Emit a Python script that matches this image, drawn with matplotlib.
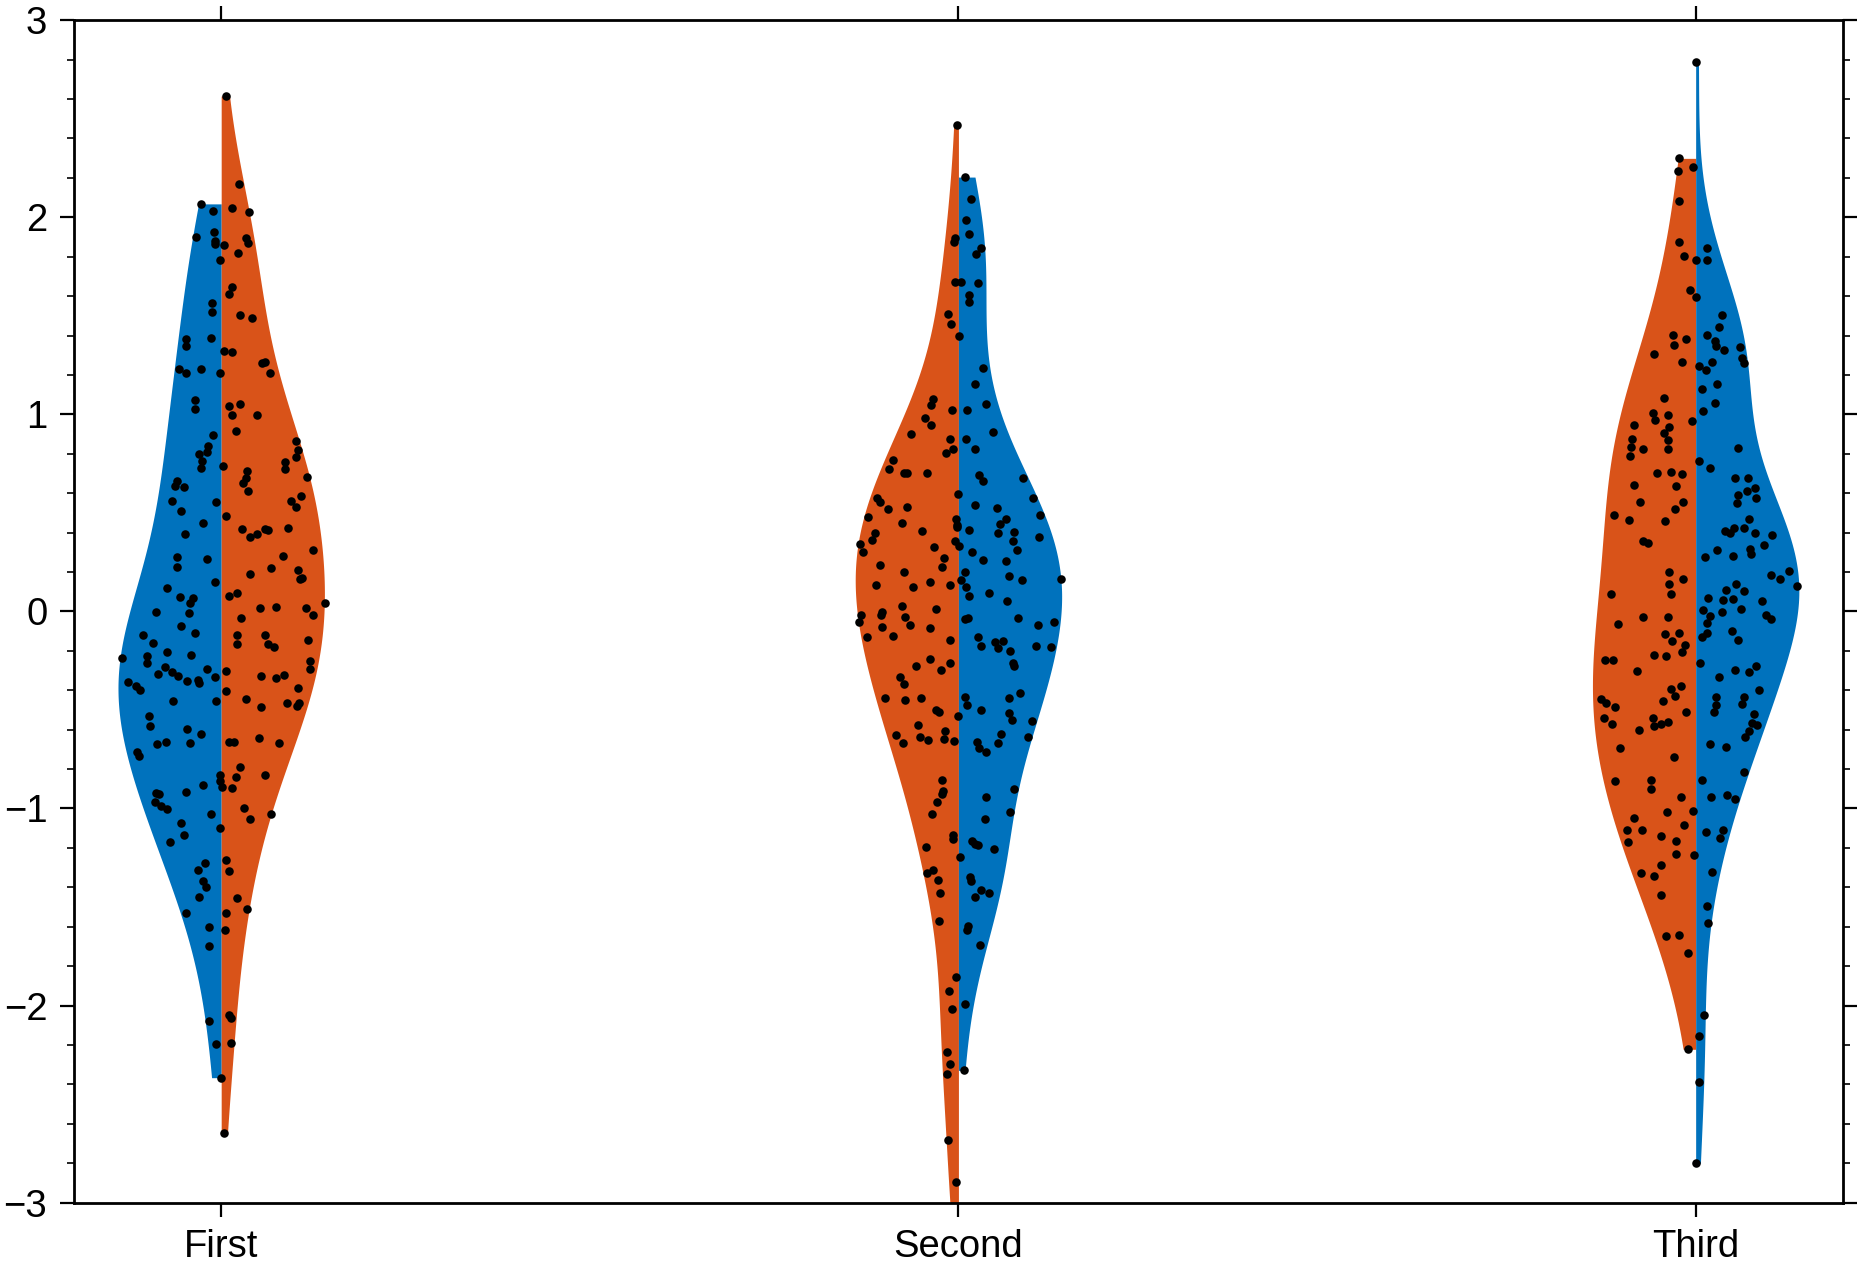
import numpy as np
import matplotlib.pyplot as plt
from matplotlib.ticker import MultipleLocator

plt.rcParams['font.family'] = ['Liberation Sans', 'DejaVu Sans']

# ------------------------------------------------------
# DATA  (value, jitter offset)
# ------------------------------------------------------

categories = ["First", "Second", "Third"]
blue = "#0072BD"
orange = "#D95319"

first_blue = [
    (2.068, -0.028), (2.034, -0.011), (1.902, -0.034), (1.926, -0.010), (1.882, -0.009),
    (1.865, -0.008), (1.784, -0.001), (1.564, -0.012), (1.517, -0.012), (1.388, -0.014),
    (1.381, -0.048), (1.349, -0.048), (1.230, -0.057), (1.211, -0.048), (1.232, -0.028),
    (1.210, -0.001), (1.071, -0.036), (1.029, -0.036), (0.895, -0.011), (0.841, -0.018),
    (0.811, -0.019), (0.799, -0.030), (0.763, -0.026), (0.728, -0.027), (0.664, -0.060),
    (0.637, -0.063), (0.633, -0.051), (0.562, -0.067), (0.555, -0.007), (0.508, -0.054),
    (0.451, -0.024), (0.391, -0.049), (0.278, -0.060), (0.224, -0.060), (0.265, -0.019),
    (0.148, -0.009), (0.119, -0.074), (0.073, -0.056), (0.067, -0.038), (0.043, -0.042),
    (-0.001, -0.088), (-0.009, -0.044), (-0.072, -0.055), (-0.108, -0.035), (-0.120, -0.106),
    (-0.159, -0.093), (-0.238, -0.135), (-0.226, -0.101), (-0.263, -0.100), (-0.204, -0.073),
    (-0.221, -0.041), (-0.280, -0.076), (-0.309, -0.067), (-0.329, -0.058), (-0.319, -0.086),
    (-0.353, -0.047), (-0.348, -0.031), (-0.361, -0.030), (-0.292, -0.019), (-0.334, -0.009),
    (-0.360, -0.126), (-0.378, -0.116), (-0.397, -0.110), (-0.455, -0.066), (-0.455, -0.007),
    (-0.529, -0.098), (-0.581, -0.096), (-0.597, -0.046), (-0.620, -0.028), (-0.674, -0.087),
    (-0.664, -0.075), (-0.669, -0.042), (-0.713, -0.114), (-0.732, -0.112), (-0.830, -0.001),
    (-0.859, -0.001), (-0.882, -0.024), (-0.921, -0.088), (-0.925, -0.084), (-0.916, -0.048),
    (-0.965, -0.090), (-0.987, -0.082), (-1.002, -0.073), (-1.028, -0.014), (-1.075, -0.054),
    (-1.099, -0.001), (-1.136, -0.050), (-1.168, -0.069), (-1.278, -0.022), (-1.314, -0.031),
    (-1.368, -0.025), (-1.396, -0.021), (-1.451, -0.030), (-1.530, -0.048), (-1.601, -0.016),
    (-1.699, -0.017), (-2.080, -0.017), (-2.195, -0.007), (-2.366, 0.000),
]

first_orange = [
    (2.615, 0.006), (2.167, 0.024), (2.049, 0.015), (2.025, 0.038), (1.861, 0.004),
    (1.897, 0.033), (1.868, 0.036), (1.817, 0.023), (1.647, 0.014), (1.611, 0.011),
    (1.503, 0.025), (1.489, 0.042), (1.323, 0.004), (1.318, 0.014), (1.259, 0.056),
    (1.264, 0.060), (1.208, 0.066), (1.044, 0.011), (1.051, 0.025), (0.995, 0.015),
    (0.995, 0.048), (0.916, 0.020), (0.740, 0.002), (0.865, 0.101), (0.821, 0.104),
    (0.785, 0.101), (0.760, 0.086), (0.725, 0.086), (0.711, 0.035), (0.677, 0.033),
    (0.652, 0.030), (0.611, 0.037), (0.682, 0.117), (0.486, 0.006), (0.588, 0.108),
    (0.560, 0.095), (0.528, 0.101), (0.418, 0.028), (0.376, 0.039), (0.391, 0.048),
    (0.417, 0.060), (0.413, 0.064), (0.424, 0.090), (0.314, 0.125), (0.281, 0.084),
    (0.221, 0.067), (0.209, 0.104), (0.163, 0.107), (0.170, 0.110), (0.192, 0.039),
    (0.078, 0.010), (0.095, 0.022), (0.019, 0.052), (0.024, 0.074), (0.018, 0.115),
    (-0.018, 0.125), (0.041, 0.141), (-0.035, 0.027), (-0.120, 0.022), (-0.165, 0.022),
    (-0.121, 0.060), (-0.165, 0.064), (-0.181, 0.071), (-0.147, 0.118), (-0.302, 0.007),
    (-0.402, 0.007), (-0.250, 0.121), (-0.290, 0.121), (-0.326, 0.054), (-0.336, 0.074),
    (-0.323, 0.085), (-0.389, 0.104), (-0.444, 0.034), (-0.483, 0.054), (-0.463, 0.089),
    (-0.463, 0.105), (-0.482, 0.103), (-0.664, 0.011), (-0.664, 0.018), (-0.642, 0.051),
    (-0.666, 0.078), (-0.791, 0.026), (-0.838, 0.020), (-0.830, 0.060), (-0.893, 0.001),
    (-0.896, 0.014), (-0.997, 0.031), (-1.053, 0.039), (-1.028, 0.067), (-1.261, 0.006),
    (-1.319, 0.011), (-1.454, 0.021), (-1.512, 0.035), (-1.530, 0.007), (-1.615, 0.005),
    (-2.049, 0.011), (-2.065, 0.013), (-2.188, 0.013), (-2.645, 0.004),
]

second_orange = [
    (2.468, -0.002), (1.893, -0.005), (1.875, -0.006), (1.672, -0.005), (1.511, -0.014),
    (1.460, -0.010), (1.400, 0.001), (1.078, -0.035), (1.047, -0.037), (1.020, -0.009),
    (0.981, -0.046), (0.946, -0.037), (0.900, -0.064), (0.875, -0.012), (0.824, -0.007),
    (0.806, -0.017), (0.768, -0.089), (0.724, -0.094), (0.702, -0.074), (0.702, -0.070),
    (0.701, -0.042), (0.576, -0.110), (0.557, -0.106), (0.518, -0.096), (0.532, -0.070),
    (0.478, -0.122), (0.447, -0.076), (0.467, -0.003), (0.439, -0.002), (0.427, -0.002),
    (0.407, -0.050), (0.396, -0.113), (0.363, -0.117), (0.340, -0.134), (0.302, -0.129),
    (0.357, -0.004), (0.327, -0.033), (0.273, -0.019), (0.224, -0.022), (0.237, -0.107),
    (0.198, -0.074), (0.151, -0.038), (0.134, -0.011), (0.132, -0.112), (0.126, -0.062),
    (0.028, -0.077), (0.011, -0.031), (-0.016, -0.132), (-0.003, -0.103), (-0.020, -0.105),
    (-0.026, -0.073), (-0.055, -0.135), (-0.070, -0.066), (-0.080, -0.104), (-0.085, -0.038),
    (-0.128, -0.124), (-0.124, -0.089), (-0.143, -0.012), (-0.241, -0.038), (-0.263, -0.012),
    (-0.277, -0.058), (-0.297, -0.024), (-0.331, -0.079), (-0.370, -0.074), (-0.438, -0.100),
    (-0.448, -0.073), (-0.439, -0.051), (-0.502, -0.031), (-0.510, -0.027), (-0.578, -0.055),
    (-0.608, -0.018), (-0.627, -0.085), (-0.635, -0.052), (-0.652, -0.041), (-0.649, -0.019),
    (-0.659, -0.006), (-0.666, -0.075), (-0.857, -0.022), (-0.913, -0.021), (-0.926, -0.022),
    (-0.967, -0.029), (-1.026, -0.036), (-1.133, -0.007), (-1.153, -0.007), (-1.195, -0.044),
    (-1.312, -0.035), (-1.327, -0.042), (-1.361, -0.028), (-1.428, -0.025), (-1.571, -0.027),
    (-1.857, -0.003), (-1.924, -0.013), (-2.019, -0.009), (-2.237, -0.015), (-2.296, -0.012),
    (-2.349, -0.016), (-2.684, -0.014), (-2.895, -0.003), (-3.080, -0.002),
]

second_blue = [
    (2.204, 0.009), (2.091, 0.017), (1.985, 0.010), (1.914, 0.014), (1.846, 0.030),
    (1.814, 0.024), (1.672, 0.003), (1.668, 0.026), (1.604, 0.015), (1.569, 0.015),
    (1.234, 0.034), (1.154, 0.022), (1.022, 0.012), (1.054, 0.037), (0.873, 0.010),
    (0.910, 0.047), (0.824, 0.022), (0.694, 0.028), (0.664, 0.033), (0.679, 0.087),
    (0.598, 0.000), (0.577, 0.101), (0.542, 0.023), (0.523, 0.053), (0.471, 0.065),
    (0.488, 0.110), (0.445, 0.056), (0.413, 0.015), (0.400, 0.054), (0.403, 0.076),
    (0.379, 0.109), (0.359, 0.074), (0.334, 0.001), (0.303, 0.018), (0.310, 0.080),
    (0.261, 0.034), (0.254, 0.064), (0.202, 0.009), (0.182, 0.069), (0.161, 0.086),
    (0.163, 0.139), (0.161, 0.003), (0.122, 0.010), (0.078, 0.014), (0.092, 0.041),
    (0.053, 0.066), (-0.037, 0.009), (-0.031, 0.013), (-0.031, 0.081), (-0.067, 0.108),
    (-0.053, 0.129), (-0.130, 0.026), (-0.155, 0.050), (-0.148, 0.060), (-0.187, 0.054),
    (-0.177, 0.031), (-0.202, 0.070), (-0.178, 0.105), (-0.180, 0.126), (-0.260, 0.074),
    (-0.277, 0.076), (-0.433, 0.009), (-0.475, 0.011), (-0.439, 0.069), (-0.412, 0.084),
    (-0.499, 0.030), (-0.517, 0.068), (-0.551, 0.073), (-0.556, 0.100), (-0.529, 0.000),
    (-0.624, 0.058), (-0.636, 0.094), (-0.663, 0.025), (-0.666, 0.054), (-0.693, 0.028),
    (-0.713, 0.037), (-0.901, 0.076), (-0.940, 0.038), (-1.018, 0.070), (-1.055, 0.036),
    (-1.246, 0.002), (-1.163, 0.018), (-1.180, 0.022), (-1.187, 0.026), (-1.204, 0.048),
    (-1.347, 0.016), (-1.369, 0.017), (-1.412, 0.030), (-1.449, 0.023), (-1.428, 0.042),
    (-1.596, 0.013), (-1.616, 0.011), (-1.691, 0.029), (-1.994, 0.009), (-2.329, 0.008),
]

third_orange = [
    (2.299, -0.022), (2.235, -0.024), (2.257, -0.003), (2.084, -0.022), (1.876, -0.023),
    (1.804, -0.016), (1.631, -0.008), (1.405, -0.031), (1.384, -0.013), (1.350, -0.029),
    (1.305, -0.057), (1.266, -0.018), (1.081, -0.043), (1.009, -0.058), (0.971, -0.055),
    (0.998, -0.038), (0.965, -0.005), (0.946, -0.083), (0.936, -0.036), (0.905, -0.043),
    (0.873, -0.087), (0.868, -0.038), (0.836, -0.088), (0.826, -0.072), (0.826, -0.038),
    (0.787, -0.089), (0.704, -0.052), (0.708, -0.034), (0.699, -0.019), (0.642, -0.083),
    (0.635, -0.026), (0.555, -0.075), (0.557, -0.017), (0.522, -0.028), (0.489, -0.111),
    (0.466, -0.090), (0.461, -0.041), (0.359, -0.071), (0.346, -0.065), (0.200, -0.036),
    (0.138, -0.036), (0.089, -0.034), (0.165, -0.017), (0.087, -0.115), (-0.030, -0.071),
    (-0.028, -0.037), (-0.066, -0.105), (-0.116, -0.042), (-0.108, -0.023), (-0.152, -0.032),
    (-0.170, -0.015), (-0.204, -0.019), (-0.219, -0.056), (-0.228, -0.040), (-0.245, -0.123),
    (-0.245, -0.112), (-0.302, -0.079), (-0.392, -0.034), (-0.378, -0.020), (-0.427, -0.028),
    (-0.454, -0.044), (-0.444, -0.128), (-0.463, -0.121), (-0.487, -0.109), (-0.512, -0.013),
    (-0.539, -0.124), (-0.573, -0.113), (-0.541, -0.058), (-0.581, -0.057), (-0.571, -0.047),
    (-0.559, -0.038), (-0.602, -0.077), (-0.693, -0.102), (-0.739, -0.030), (-0.860, -0.110),
    (-0.854, -0.060), (-0.901, -0.061), (-0.942, -0.020), (-1.011, -0.004), (-1.016, -0.039),
    (-1.050, -0.084), (-1.084, -0.016), (-1.111, -0.093), (-1.109, -0.073), (-1.172, -0.092),
    (-1.139, -0.047), (-1.166, -0.026), (-1.231, -0.026), (-1.234, -0.002), (-1.286, -0.047),
    (-1.327, -0.074), (-1.344, -0.056), (-1.440, -0.047), (-1.645, -0.040), (-1.640, -0.022),
    (-1.735, -0.011), (-2.222, -0.010),
]

third_blue = [
    (2.788, 0.001), (1.783, 0.000), (1.844, 0.015), (1.782, 0.016), (1.597, 0.001),
    (1.506, 0.036), (1.445, 0.032), (1.401, 0.016), (1.370, 0.026), (1.347, 0.028),
    (1.326, 0.039), (1.340, 0.060), (1.284, 0.063), (1.259, 0.066), (1.245, 0.005),
    (1.225, 0.014), (1.266, 0.022), (1.154, 0.029), (1.129, 0.009), (1.056, 0.026),
    (1.017, 0.010), (0.829, 0.057), (0.762, 0.004), (0.730, 0.020), (0.677, 0.053),
    (0.677, 0.071), (0.628, 0.081), (0.611, 0.069), (0.591, 0.058), (0.576, 0.082),
    (0.552, 0.056), (0.467, 0.072), (0.425, 0.052), (0.425, 0.065), (0.407, 0.040),
    (0.396, 0.047), (0.400, 0.081), (0.388, 0.104), (0.339, 0.093), (0.310, 0.029),
    (0.275, 0.012), (0.283, 0.050), (0.315, 0.074), (0.292, 0.075), (0.185, 0.102),
    (0.165, 0.114), (0.204, 0.127), (0.129, 0.138), (0.109, 0.041), (0.141, 0.055),
    (0.106, 0.065), (0.070, 0.017), (0.058, 0.037), (0.062, 0.051), (0.055, 0.090),
    (0.007, 0.010), (-0.003, 0.036), (0.011, 0.062), (-0.018, 0.095), (-0.023, 0.020),
    (-0.040, 0.102), (-0.060, 0.015), (-0.131, 0.009), (-0.111, 0.016), (-0.101, 0.049),
    (-0.145, 0.058), (-0.263, 0.006), (-0.295, 0.053), (-0.306, 0.072), (-0.279, 0.082),
    (-0.334, 0.032), (-0.399, 0.086), (-0.432, 0.028), (-0.473, 0.028), (-0.509, 0.025),
    (-0.434, 0.065), (-0.471, 0.063), (-0.520, 0.079), (-0.564, 0.077), (-0.575, 0.083),
    (-0.608, 0.072), (-0.635, 0.067), (-0.673, 0.019), (-0.690, 0.041), (-0.816, 0.066),
    (-0.855, 0.008), (-0.940, 0.021), (-0.930, 0.043), (-0.952, 0.053), (-1.119, 0.014),
    (-1.109, 0.037), (-1.148, 0.033), (-1.324, 0.022), (-1.493, 0.015), (-1.581, 0.017),
    (-2.046, 0.011), (-2.156, 0.004), (-2.388, 0.005), (-2.800, 0.000),
]

# (category index, data, colour, side)
halves = [
    (0, first_blue, blue, -1),
    (0, first_orange, orange, 1),
    (1, second_orange, orange, -1),
    (1, second_blue, blue, 1),
    (2, third_orange, orange, -1),
    (2, third_blue, blue, 1),
]

half_width = 0.14


def kde(v, grid):
    n = len(v)
    sig = np.median(np.abs(v - np.median(v))) / 0.6745
    h = sig * (4.0 / (3.0 * n)) ** 0.2
    return np.exp(-0.5 * ((grid[:, None] - v[None, :]) / h) ** 2).sum(axis=1)


# ------------------------------------------------------
# PLOT
# ------------------------------------------------------

fig = plt.figure(figsize=(18.67, 12.63), dpi=100)
ax = fig.add_axes([0.0395, 0.0478, 0.9477, 0.9362])

for pos, data, color, side in halves:
    arr = np.array(data)
    y, dx = arr[:, 0], arr[:, 1]
    grid = np.linspace(y.min(), y.max(), 400)
    d = kde(y, grid)
    w = d / d.max() * half_width
    ax.fill_betweenx(grid, pos, pos + side * w, color=color, linewidth=0, zorder=1)
    ax.scatter(pos + dx, y, s=38, color='black', linewidths=0, zorder=3)

ax.set_xlim(-0.2, 2.2)
ax.set_ylim(-3, 3)

ax.set_xticks(range(len(categories)))
ax.set_xticklabels(categories)
ax.yaxis.set_major_locator(MultipleLocator(1))
ax.yaxis.set_minor_locator(MultipleLocator(0.2))

ax.tick_params(axis='both', which='major', direction='out', length=10, width=1.6,
               labelsize=27.5, top=True, right=True, labeltop=False, labelright=False)
ax.tick_params(axis='x', which='major', pad=9)
ax.tick_params(axis='y', which='major', pad=9)
ax.tick_params(axis='y', which='minor', direction='out', length=5, width=1.2,
               left=True, right=True)
ax.tick_params(axis='x', which='minor', bottom=False, top=False)

for sp in ax.spines.values():
    sp.set_linewidth(2.0)

fig.savefig("out.png", dpi=100)
